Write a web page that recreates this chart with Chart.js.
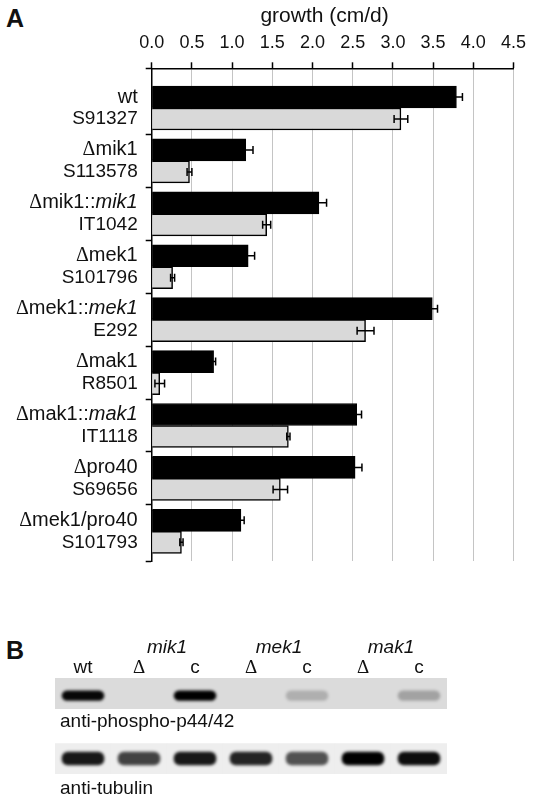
<!DOCTYPE html>
<html>
<head>
<meta charset="utf-8">
<script src="https://cdn.jsdelivr.net/npm/chart.js@4.4.1/dist/chart.umd.min.js"></script>
<style>
  body { margin: 0; background: #fff; width: 534px; height: 800px; position: relative; overflow: hidden;
         font-family: "Liberation Sans", Arial, sans-serif; }
  canvas { position: absolute; left: 0; }
  #chartA { top: 0; }
  #chartB { top: 600px; }
  .panel { position: absolute; left: 6px; font-weight: bold; font-size: 25px; line-height: 1; color: #111; }
</style>
</head>
<body>
<div class="panel" style="top:6px">A</div>
<div class="panel" style="top:638px">B</div>
<canvas id="chartA" width="534" height="590"></canvas>
<canvas id="chartB" width="534" height="200"></canvas>
<script>
// panel A: growth rates, two bars per strain
var strains = ['wt', 'Δmik1', 'Δmik1::mik1', 'Δmek1', 'Δmek1::mek1', 'Δmak1', 'Δmak1::mak1', 'Δpro40', 'Δmek1/pro40'];
var strainIds = ['S91327', 'S113578', 'IT1042', 'S101796', 'E292', 'R8501', 'IT1118', 'S69656', 'S101793'];
var growthDark = [3.79, 1.17, 2.08, 1.20, 3.49, 0.77, 2.55, 2.53, 1.11];
var errDark = [0.075, 0.09, 0.095, 0.08, 0.065, 0.025, 0.06, 0.085, 0.04];
var growthLight = [3.10, 0.47, 1.43, 0.26, 2.66, 0.10, 1.70, 1.60, 0.37];
var errLight = [0.085, 0.03, 0.05, 0.025, 0.105, 0.06, 0.02, 0.09, 0.02];
var axisTitle = 'growth (cm/d)';

// panel B: western blot lanes
var lanes = ['wt', 'Δ', 'c', 'Δ', 'c', 'Δ', 'c'];
var laneGenes = ['mik1', 'mek1', 'mak1'];
var antibodies = ['anti-phospho-p44/42', 'anti-tubulin'];
var phosphoLevel = [0.97, 0, 1.0, 0, 0.2, 0, 0.26];
var tubulinLevel = [0.9, 0.72, 0.9, 0.85, 0.66, 1.0, 0.95];

var SANS = '"Liberation Sans", Arial, sans-serif';

function fontFor(f, size) {
    if (f === 'serif') return size + 'px "Liberation Serif", serif';
    if (f === 'ital') return 'italic ' + size + 'px ' + SANS;
    return size + 'px ' + SANS;
}

// split "Δmek1::mek1" into Δ (serif), plain part, italic part
function richParts(text) {
    var parts = [], main = text, ital = null;
    var k = text.indexOf('::');
    if (k >= 0) { main = text.slice(0, k + 2); ital = text.slice(k + 2); }
    if (main.charAt(0) === 'Δ') { parts.push({ t: 'Δ', f: 'serif' }); main = main.slice(1); }
    if (main) parts.push({ t: main, f: 'sans' });
    if (ital) parts.push({ t: ital, f: 'ital' });
    return parts;
}

function drawRich(ctx, text, x, y, align, size) {
    var parts = richParts(text), w = 0;
    parts.forEach(function (p) { ctx.font = fontFor(p.f, size); p.w = ctx.measureText(p.t).width; w += p.w; });
    var cx = align === 'right' ? x - w : (align === 'center' ? x - w / 2 : x);
    ctx.textAlign = 'left';
    ctx.textBaseline = 'middle';
    parts.forEach(function (p) { ctx.font = fontFor(p.f, size); ctx.fillText(p.t, cx, y); cx += p.w; });
}

var yMin = -0.75, yMax = 8.56;
var yTicks = [yMin];
for (var t = 0; t <= 8; t += 0.5) yTicks.push(t);
yTicks.push(yMax);

var panelA = {
    id: 'panelA',
    afterDatasetsDraw: function (chart) {
        var ctx = chart.ctx, xs = chart.scales.x, ys = chart.scales.y, area = chart.chartArea;
        ctx.save();
        // error bars
        [[0, growthDark, errDark], [1, growthLight, errLight]].forEach(function (s) {
            chart.getDatasetMeta(s[0]).data.forEach(function (bar, i) {
                var x1 = xs.getPixelForValue(s[1][i] - s[2][i]);
                var x2 = xs.getPixelForValue(s[1][i] + s[2][i]);
                ctx.strokeStyle = '#000';
                ctx.lineWidth = 1.5;
                ctx.beginPath();
                ctx.moveTo(x1, bar.y); ctx.lineTo(x2, bar.y);
                ctx.moveTo(x1, bar.y - 4); ctx.lineTo(x1, bar.y + 4);
                ctx.moveTo(x2, bar.y - 4); ctx.lineTo(x2, bar.y + 4);
                ctx.stroke();
            });
        });
        // strain labels, one line per bar
        ctx.fillStyle = '#111';
        strains.forEach(function (s, i) {
            var c = ys.getPixelForValue(i);
            drawRich(ctx, s, area.left - 14, c - 11, 'right', 20);
            drawRich(ctx, strainIds[i], area.left - 14, c + 11, 'right', 19);
        });
        ctx.font = '21px ' + SANS;
        ctx.textAlign = 'center';
        ctx.textBaseline = 'middle';
        ctx.fillText(axisTitle, (area.left + area.right) / 2 - 8, 16);
        ctx.restore();
    }
};

new Chart(document.getElementById('chartA'), {
    type: 'bar',
    data: {
        datasets: [{
            label: 'dark',
            data: growthDark.map(function (v, i) { return { x: v, y: i }; }),
            backgroundColor: '#000',
            borderColor: '#000',
            borderWidth: 1,
            barThickness: 22
        }, {
            label: 'light',
            data: growthLight.map(function (v, i) { return { x: v, y: i }; }),
            backgroundColor: '#d9d9d9',
            borderColor: '#000',
            borderWidth: 1.5,
            barThickness: 22
        }]
    },
    options: {
        indexAxis: 'y',
        responsive: false,
        animation: false,
        layout: { padding: { left: 0, right: 15.7, top: 0, bottom: 29 } },
        plugins: { legend: { display: false }, tooltip: { enabled: false } },
        scales: {
            x: {
                position: 'top',
                min: 0,
                max: 4.5,
                ticks: {
                    stepSize: 0.5,
                    color: '#111',
                    padding: 8,
                    font: { size: 18, family: SANS },
                    callback: function (v) { return Number(v).toFixed(1); }
                },
                grid: { color: '#c4c4c4', lineWidth: 1, tickColor: '#000', tickLength: 6, tickWidth: 1.5 },
                border: { color: '#000', width: 1.5 },
                afterFit: function (s) { s.height = 68.3; }
            },
            y: {
                type: 'linear',
                reverse: true,
                min: yMin,
                max: yMax,
                offset: false,
                ticks: { display: false },
                grid: {
                    offset: false,
                    drawOnChartArea: false,
                    tickLength: 6,
                    tickWidth: 1.5,
                    tickColor: function (c) {
                        return c.tick && Number.isInteger(c.tick.value) ? 'rgba(0,0,0,0)' : '#000';
                    }
                },
                border: { color: '#000', width: 1.5 },
                afterBuildTicks: function (s) { s.ticks = yTicks.map(function (v) { return { value: v }; }); },
                afterFit: function (s) { s.width = 151.7; }
            }
        }
    },
    plugins: [panelA]
});

// panel B: blot strips and bands
var panelB = {
    id: 'panelB',
    beforeDatasetDraw: function (chart, args) {
        if (args.index < 2) { chart.ctx.save(); chart.ctx.filter = 'blur(1.5px)'; }
    },
    afterDatasetDraw: function (chart, args) {
        if (args.index < 2) chart.ctx.restore();
    },
    afterDraw: function (chart) {
        var ctx = chart.ctx, xs = chart.scales.x, ys = chart.scales.y, area = chart.chartArea;
        ctx.save();
        ctx.fillStyle = '#111';
        lanes.forEach(function (l, i) { drawRich(ctx, l, xs.getPixelForValue(i), area.top - 10, 'center', 19); });
        laneGenes.forEach(function (g, k) {
            ctx.font = fontFor('ital', 19);
            ctx.textAlign = 'center';
            ctx.textBaseline = 'middle';
            ctx.fillText(g, xs.getPixelForValue(1.5 + 2 * k), area.top - 30);
        });
        drawRich(ctx, antibodies[0], area.left + 5, ys.getPixelForValue(1) + 13, 'left', 19);
        drawRich(ctx, antibodies[1], area.left + 5, ys.getPixelForValue(3.15) + 15, 'left', 19);
        ctx.restore();
    }
};

new Chart(document.getElementById('chartB'), {
    type: 'bar',
    data: {
        labels: lanes,
        datasets: [{
            label: antibodies[0],
            data: phosphoLevel.map(function () { return [0.41, 0.75]; }),
            backgroundColor: phosphoLevel.map(function (v) { return 'rgba(0,0,0,' + v + ')'; }),
            barPercentage: 0.76, categoryPercentage: 1, borderRadius: 6, borderSkipped: false
        }, {
            label: antibodies[1],
            data: tubulinLevel.map(function () { return [2.42, 2.86]; }),
            backgroundColor: tubulinLevel.map(function (v) { return 'rgba(0,0,0,' + v + ')'; }),
            barPercentage: 0.76, categoryPercentage: 1, borderRadius: 6, borderSkipped: false
        }, {
            label: 'strip1',
            data: lanes.map(function () { return [0, 1.01]; }),
            backgroundColor: '#dbdbdb',
            barPercentage: 1, categoryPercentage: 1
        }, {
            label: 'strip2',
            data: lanes.map(function () { return [2.15, 3.15]; }),
            backgroundColor: '#eeeeee',
            barPercentage: 1, categoryPercentage: 1
        }]
    },
    options: {
        responsive: false,
        animation: false,
        layout: { padding: { left: 55, right: 87, top: 78, bottom: 26 } },
        plugins: { legend: { display: false }, tooltip: { enabled: false } },
        scales: {
            x: { display: false, stacked: true },
            y: { display: false, stacked: false, min: 0, max: 3.15, reverse: true }
        }
    },
    plugins: [panelB]
});
</script>
</body>
</html>
